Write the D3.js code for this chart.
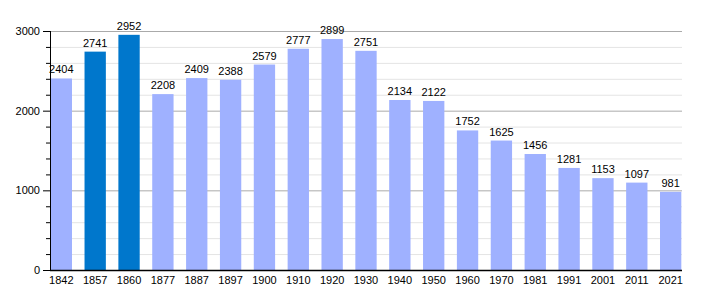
<!DOCTYPE html>
<html>
<head>
<meta charset="utf-8">
<script src="https://cdn.jsdelivr.net/npm/d3@7"></script>
<style>
  body { margin: 0; background: #fff; }
  svg { display: block; font-family: "Liberation Sans", Arial, sans-serif; }
</style>
</head>
<body>
<svg id="chart" width="710" height="300"></svg>
<script>
const years = ["1842", "1857", "1860", "1877", "1887", "1897", "1900", "1910", "1920", "1930",
               "1940", "1950", "1960", "1970", "1981", "1991", "2001", "2011", "2021"];
const population = [2404, 2741, 2952, 2208, 2409, 2388, 2579, 2777, 2899, 2751,
                    2134, 2122, 1752, 1625, 1456, 1281, 1153, 1097, 981];
const highlighted = ["1857", "1860"];
const majorTicks = [0, 1000, 2000, 3000];
const minorTicks = d3.range(0, 3001, 200);

const width = 710, height = 300;
const margin = { top: 31, right: 28, bottom: 30, left: 50 };
const innerWidth = width - margin.left - margin.right;
const innerHeight = height - margin.top - margin.bottom;

const svg = d3.select("#chart");
const g = svg.append("g").attr("transform", `translate(${margin.left},${margin.top})`);

const x = d3.scaleBand().domain(years).range([0, innerWidth]).paddingInner(0.37).paddingOuter(0.02);
const y = d3.scaleLinear().domain([0, 3000]).range([innerHeight, 0]);

// minor gridlines
g.selectAll(".minor-grid")
    .data(minorTicks.filter(v => v % 1000 !== 0))
    .enter().append("line")
    .attr("x1", 0).attr("x2", innerWidth)
    .attr("y1", d => y(d) + 0.5).attr("y2", d => y(d) + 0.5)
    .attr("stroke", "#e4e4e4");

// major gridlines
g.selectAll(".major-grid")
    .data(majorTicks.filter(v => v > 0))
    .enter().append("line")
    .attr("x1", 0).attr("x2", innerWidth)
    .attr("y1", d => y(d) + 0.5).attr("y2", d => y(d) + 0.5)
    .attr("stroke", "#aaaaaa");

// bars
g.selectAll(".bar")
    .data(years)
    .enter().append("rect")
    .attr("x", d => x(d))
    .attr("width", x.bandwidth())
    .attr("y", (d, i) => y(population[i]))
    .attr("height", (d, i) => innerHeight - y(population[i]))
    .attr("fill", d => highlighted.includes(d) ? "#0077cc" : "#9fb1ff");

// value labels
g.selectAll(".value")
    .data(years)
    .enter().append("text")
    .attr("x", d => x(d) + x.bandwidth() / 2)
    .attr("y", (d, i) => y(population[i]) - 5)
    .attr("text-anchor", "middle")
    .attr("font-size", "11px")
    .attr("fill", "#000")
    .text((d, i) => population[i]);

// y axis
const yAxis = g.append("g");
yAxis.append("line")
    .attr("x1", 0.5).attr("x2", 0.5)
    .attr("y1", 0).attr("y2", innerHeight)
    .attr("stroke", "#000");
yAxis.selectAll(".minor-tick")
    .data(minorTicks)
    .enter().append("line")
    .attr("x1", d => d % 1000 === 0 ? -7 : -4).attr("x2", 0)
    .attr("y1", d => y(d) + 0.5).attr("y2", d => y(d) + 0.5)
    .attr("stroke", "#000");
yAxis.selectAll(".tick-label")
    .data(majorTicks)
    .enter().append("text")
    .attr("x", -10)
    .attr("y", d => y(d) + 4)
    .attr("text-anchor", "end")
    .attr("font-size", "11px")
    .text(d => d);

// x axis
const xAxis = g.append("g").attr("transform", `translate(0,${innerHeight})`);
xAxis.append("line")
    .attr("x1", 0).attr("x2", innerWidth)
    .attr("y1", 0.5).attr("y2", 0.5)
    .attr("stroke", "#000")
    .attr("stroke-width", 1.5);
xAxis.selectAll(".x-label")
    .data(years)
    .enter().append("text")
    .attr("x", d => x(d) + x.bandwidth() / 2)
    .attr("y", 14)
    .attr("text-anchor", "middle")
    .attr("font-size", "11px")
    .text(d => d);
</script>
</body>
</html>
